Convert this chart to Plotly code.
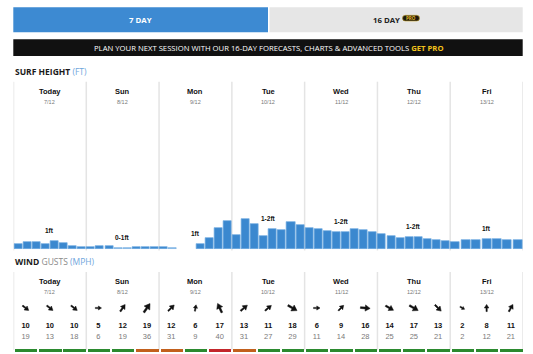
import math
import plotly.graph_objects as go

W, H = 533, 354

days = ["Today", "Sun", "Mon", "Tue", "Wed", "Thu", "Fri"]
dates = ["7/12", "8/12", "9/12", "10/12", "11/12", "12/12", "13/12"]

# surf height (ft), 3-hourly per day (Fri has 7 readings)
surf_ft = [
    [0.31, 0.48, 0.44, 0.36, 0.52, 0.42, 0.23, 0.13],
    [0.14, 0.23, 0.19, 0.08, 0.08, 0.13, 0.13, 0.14],
    [0.14, 0.08, None, None, 0.36, 0.69, 1.31, 1.77],
    [0.89, 1.88, 1.56, 0.86, 1.27, 1.19, 1.69, 1.52],
    [1.36, 1.25, 1.14, 1.11, 1.06, 1.25, 1.19, 1.06],
    [0.94, 0.83, 0.73, 0.79, 0.75, 0.67, 0.58, 0.52],
    [0.46, 0.61, 0.56, 0.64, 0.63, 0.56, 0.56],
]
surf_labels = ["1ft", "0-1ft", "1ft", "1-2ft", "1-2ft", "1-2ft", "1ft"]

wind_speed = [[10, 10, 10], [5, 12, 19], [12, 6, 17], [13, 11, 18],
              [6, 9, 16], [14, 17, 13], [2, 8, 11]]
wind_gust = [[19, 13, 18], [6, 19, 36], [31, 9, 40], [31, 27, 29],
             [11, 14, 28], [25, 25, 21], [2, 12, 21]]
# direction the arrow points, degrees clockwise from up
wind_dir = [[128, 128, 128], [90, 35, 35], [45, 10, 335], [50, 50, 120],
            [90, 45, 95], [120, 120, 135], [120, 0, 30]]
wind_rating = [["good"] * 3, ["good", "good", "fair"], ["fair", "good", "poor"],
               ["fair", "good", "good"], ["good"] * 3, ["good"] * 3, ["good"] * 3]

# ---------------------------------------------------------------- styling
BLUE = "#3b88cf"
LIGHT_BLUE = "#a9cdec"
DIV = "#e4e4e4"
RATING_COL = {"good": "#2b8a2f", "fair": "#c2601d", "poor": "#c3262b"}
FONT = "Liberation Sans, Arial, sans-serif"
HFONT = "Open Sans, Liberation Sans, sans-serif"
PX_PER_FT = 16.0
BASE_PY = 249.3
TOP_PY = 82.0


def fx(px):
    return px / W


def fy(py):
    return 1 - py / H


X0, X1 = 13.5, 523.0
HOURS = 24 * len(days)

fig = go.Figure()

# ---------------------------------------------------------------- surf bars
bx, by, bw, bc = [], [], [], []
for d, vals in enumerate(surf_ft):
    n = len(vals)
    step = 24 / n
    for i, v in enumerate(vals):
        bx.append(d * 24 + (i + 0.5) * step)
        by.append(v)
        bw.append(step * 0.88)
        bc.append(LIGHT_BLUE if (v is not None and v < 0.1) else BLUE)

fig.add_trace(go.Bar(x=bx, y=by, width=bw, marker=dict(color=bc, line=dict(color="#6fa9df", width=0.7)),
                     xaxis="x", yaxis="y", hoverinfo="skip", showlegend=False))

# ---------------------------------------------------------------- wind
wx, ws, wg, wc = [], [], [], []
for d in range(len(days)):
    for i in range(3):
        wx.append(d * 24 + (i + 0.5) * 8)
        ws.append(wind_speed[d][i])
        wg.append(wind_gust[d][i])
        wc.append(RATING_COL[wind_rating[d][i]])

# y2 units = pixels measured up from bottom of figure
fig.add_trace(go.Bar(x=wx, y=[3.2] * len(wx), base=1.6, width=8 * 0.92,
                     marker=dict(color=wc, line=dict(width=0)),
                     xaxis="x2", yaxis="y2", hoverinfo="skip", showlegend=False))
fig.add_trace(go.Scatter(x=wx, y=[H - 326] * len(wx), mode="text",
                         text=[f"<b>{s}</b>" for s in ws],
                         textfont=dict(family=FONT, size=7.5, color="#111"),
                         xaxis="x2", yaxis="y2", hoverinfo="skip", showlegend=False))
fig.add_trace(go.Scatter(x=wx, y=[H - 337] * len(wx), mode="text",
                         text=[str(g) for g in wg],
                         textfont=dict(family=FONT, size=7.5, color="#7a7a7a"),
                         xaxis="x2", yaxis="y2", hoverinfo="skip", showlegend=False))

annotations = []
shapes = []


def arrow_path(speed, deg):
    L = 4.5 + speed * 0.33
    hl, hw, sw = 0.5 * L, 0.32 * L, max(0.6, 0.09 * L)
    pts = [(-sw, -L / 2), (sw, -L / 2), (sw, L / 2 - hl), (hw, L / 2 - hl),
           (0, L / 2), (-hw, L / 2 - hl), (-sw, L / 2 - hl)]
    t = math.radians(deg)
    c, s = math.cos(t), math.sin(t)
    rp = [(x * c + y * s, -x * s + y * c) for x, y in pts]
    return "M " + " L ".join(f"{x:.2f},{y:.2f}" for x, y in rp) + " Z"


# arrows
for d in range(len(days)):
    for i in range(3):
        shapes.append(dict(type="path", xref="x2", yref="y2",
                           xsizemode="pixel", ysizemode="pixel",
                           xanchor=d * 24 + (i + 0.5) * 8, yanchor=H - 308,
                           path=arrow_path(wind_speed[d][i], wind_dir[d][i]),
                           fillcolor="#111", line=dict(color="#111", width=0.5)))

# dividers
for d in range(len(days) + 1):
    shapes.append(dict(type="line", xref="x", yref="paper", x0=d * 24, x1=d * 24,
                       y0=fy(250.5), y1=fy(81.7), line=dict(color=DIV, width=1.5), layer="below"))
    shapes.append(dict(type="line", xref="x2", yref="paper", x0=d * 24, x1=d * 24,
                       y0=fy(350), y1=fy(272), line=dict(color=DIV, width=1.5), layer="below"))


def ann(x, y, text, size, color="#111", family=FONT, xref="paper", yref="paper", xanchor="center", **kw):
    annotations.append(dict(x=x, y=y, xref=xref, yref=yref, text=text, showarrow=False,
                            xanchor=xanchor, yanchor=kw.pop("yanchor", "middle"),
                            font=dict(family=family, size=size, color=color), **kw))


# day headers
for d, (dn, dt) in enumerate(zip(days, dates)):
    cx = d * 24 + 12
    for xr, py_day, py_date in (("x", 91.7, 101.7), ("x2", 281.7, 291.7)):
        ann(cx, fy(py_day), f"<b>{dn}</b>", 7.5, xref=xr)
        ann(cx, fy(py_date), dt, 5.5, color="#777", xref=xr)

# surf labels above the middle reading of each day
for d, lab in enumerate(surf_labels):
    vals = surf_ft[d]
    mid = vals[len(vals) // 2]
    ann(d * 24 + 12, mid, f"<b>{lab}</b>", 6.5, xref="x", yref="y", yanchor="bottom", yshift=5)

# tabs
shapes.append(dict(type="rect", xref="paper", yref="paper", x0=fx(13.3), x1=fx(268),
                   y0=fy(32.3), y1=fy(7.3), fillcolor="#3d8ad2", line=dict(width=0)))
shapes.append(dict(type="rect", xref="paper", yref="paper", x0=fx(269.5), x1=fx(522.7),
                   y0=fy(32.3), y1=fy(7.3), fillcolor="#e6e6e6", line=dict(width=0)))
ann(fx(140.8), fy(20), "<b>7 DAY</b>", 7.8, color="white", family=HFONT)
ann(fx(386.5), fy(20), "<b>16 DAY</b>", 7.8, color="#222", family=HFONT)
# PRO pill
px0, px1, py0, py1 = 402.5, 419.5, 15.3, 21.0
r = (py1 - py0) / 2
pill = (f"M {fx(px0 + r)} {fy(py0)} L {fx(px1 - r)} {fy(py0)} "
        f"Q {fx(px1)} {fy(py0)} {fx(px1)} {fy(py0 + r)} Q {fx(px1)} {fy(py1)} {fx(px1 - r)} {fy(py1)} "
        f"L {fx(px0 + r)} {fy(py1)} Q {fx(px0)} {fy(py1)} {fx(px0)} {fy(py0 + r)} "
        f"Q {fx(px0)} {fy(py0)} {fx(px0 + r)} {fy(py0)} Z")
shapes.append(dict(type="path", xref="paper", yref="paper", path=pill,
                   fillcolor="#1d1a10", line=dict(color="#c9a227", width=0.6)))
ann(fx(411), fy(18.2), "<b>PRO</b>", 4.5, color="#e8b923", family=HFONT)

# banner
shapes.append(dict(type="rect", xref="paper", yref="paper", x0=fx(13.3), x1=fx(522.7),
                   y0=fy(56), y1=fy(39.3), fillcolor="#111111", line=dict(width=0)))
ann(fx(268.5), fy(47.6),
    "PLAN YOUR NEXT SESSION WITH OUR 16-DAY FORECASTS, CHARTS &amp; ADVANCED TOOLS "
    "<b><span style='color:#f2c21b'>GET PRO</span></b>", 7.7, color="white", family=HFONT)

# section titles
ann(fx(13), fy(71), "<b>SURF HEIGHT</b> <span style='color:#6fa6dc'>(FT)</span>", 8.5,
    color="#1a1a1a", family=HFONT, xanchor="left")
ann(fx(13), fy(261.5), "<b>WIND</b> <span style='color:#8a8a8a'>GUSTS</span> "
    "<span style='color:#6fa6dc'>(MPH)</span>", 8.5, color="#1a1a1a", family=HFONT, xanchor="left")

hidden = dict(showgrid=False, zeroline=False, showticklabels=False, ticks="", showline=False, fixedrange=True)
fig.update_layout(
    width=W, height=H, margin=dict(l=0, r=0, t=0, b=0),
    paper_bgcolor="white", plot_bgcolor="rgba(0,0,0,0)",
    bargap=0,
    xaxis=dict(domain=[fx(X0), fx(X1)], range=[0, HOURS], **hidden),
    yaxis=dict(domain=[fy(BASE_PY), fy(TOP_PY)], range=[0, (BASE_PY - TOP_PY) / PX_PER_FT], **hidden),
    xaxis2=dict(domain=[fx(X0), fx(X1)], range=[0, HOURS], anchor="y2", **hidden),
    yaxis2=dict(domain=[0, fy(270)], range=[0, H - 270], anchor="x2", **hidden),
    shapes=shapes, annotations=annotations,
)

fig.write_html("out.html")
